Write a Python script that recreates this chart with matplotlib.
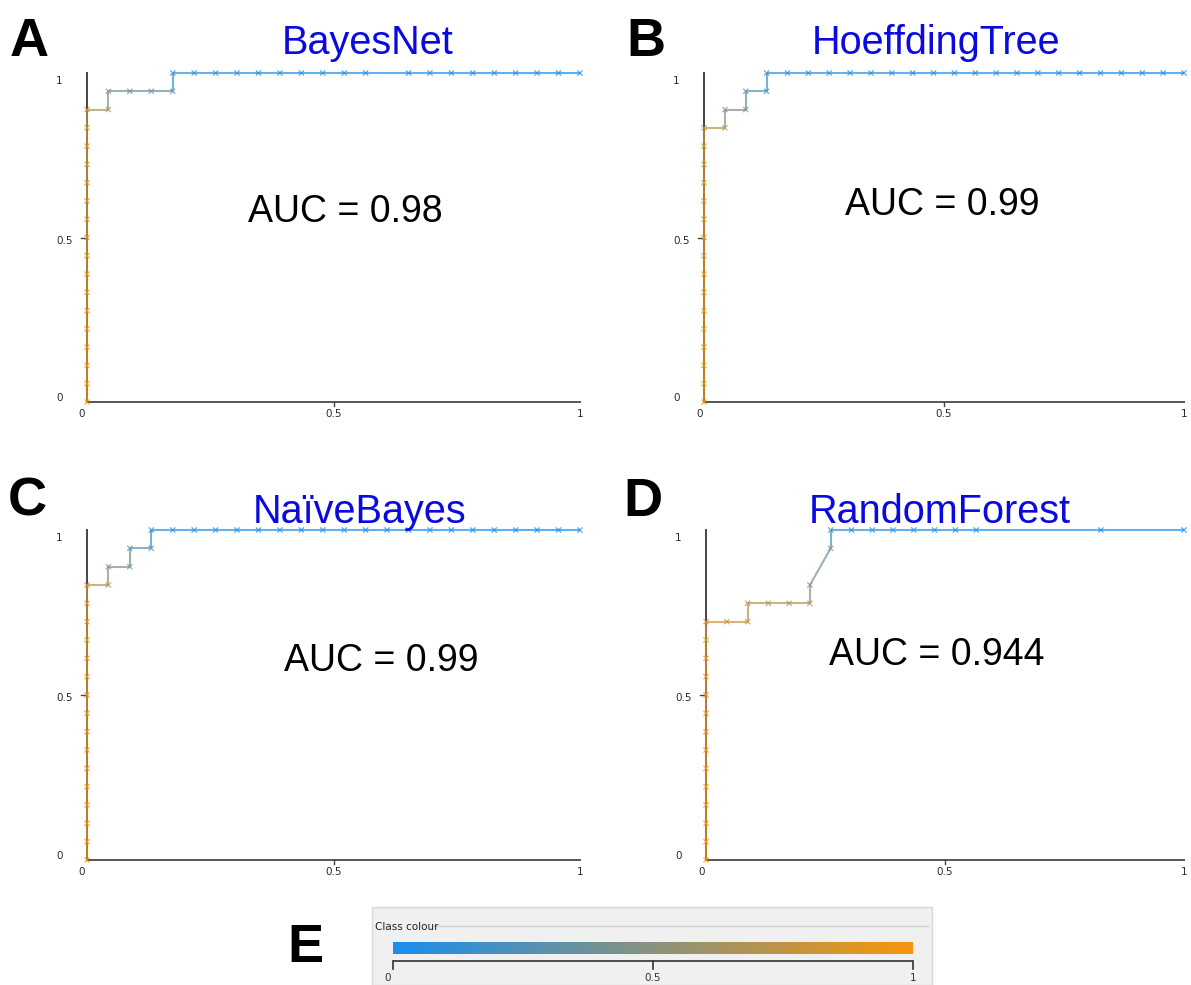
import numpy as np
import matplotlib
matplotlib.use('Agg')
import matplotlib.pyplot as plt
from matplotlib.colors import LinearSegmentedColormap
from matplotlib.collections import LineCollection

W, H = 1191, 985
n_neg = 23
n_pos = 18

# counts of false / true positives along each ROC curve, plus threshold (class colour)
fp_a = [0, 0, 0, 0, 0, 0, 0, 0, 0, 0, 0, 0, 0, 0, 0, 0, 0,
        1, 1, 2, 3, 4, 4, 5, 6, 7, 8, 9, 10, 11, 12, 13, 15, 16, 17, 18, 19, 20, 21, 22, 23]
tp_a = [0, 1, 2, 3, 4, 5, 6, 7, 8, 9, 10, 11, 12, 13, 14, 15, 16,
        16, 17, 17, 17, 17, 18, 18, 18, 18, 18, 18, 18, 18, 18, 18, 18, 18, 18, 18, 18, 18, 18, 18, 18]
thr_a = [1.0, 0.99, 0.98, 0.97, 0.96, 0.95, 0.94, 0.93, 0.92, 0.91, 0.9, 0.89, 0.88, 0.87, 0.86, 0.84, 0.76,
         0.66, 0.45, 0.4, 0.38, 0.35, 0.15, 0.1, 0.09, 0.08, 0.07, 0.06, 0.05, 0.05, 0.04, 0.04, 0.03,
         0.03, 0.02, 0.02, 0.01, 0.01, 0.0, 0.0, 0.0]

fp_b = [0, 0, 0, 0, 0, 0, 0, 0, 0, 0, 0, 0, 0, 0, 0, 0,
        1, 1, 2, 2, 3, 3, 4, 5, 6, 7, 8, 9, 10, 11, 12, 13, 14, 15, 16, 17, 18, 19, 20, 21, 22, 23]
tp_b = [0, 1, 2, 3, 4, 5, 6, 7, 8, 9, 10, 11, 12, 13, 14, 15,
        15, 16, 16, 17, 17, 18, 18, 18, 18, 18, 18, 18, 18, 18, 18, 18, 18, 18, 18, 18, 18, 18, 18, 18, 18, 18]
thr_b = [1.0, 0.99, 0.98, 0.97, 0.96, 0.95, 0.94, 0.93, 0.92, 0.91, 0.9, 0.89, 0.88, 0.87, 0.85, 0.8,
         0.68, 0.5, 0.45, 0.35, 0.3, 0.15, 0.1, 0.09, 0.08, 0.07, 0.06, 0.05, 0.05, 0.04, 0.04, 0.03,
         0.03, 0.02, 0.02, 0.02, 0.01, 0.01, 0.01, 0.0, 0.0, 0.0]

fp_c = [0, 0, 0, 0, 0, 0, 0, 0, 0, 0, 0, 0, 0, 0, 0, 0,
        1, 1, 2, 2, 3, 3, 4, 5, 6, 7, 8, 9, 10, 11, 12, 13, 14, 15, 16, 17, 18, 19, 20, 21, 22, 23]
tp_c = [0, 1, 2, 3, 4, 5, 6, 7, 8, 9, 10, 11, 12, 13, 14, 15,
        15, 16, 16, 17, 17, 18, 18, 18, 18, 18, 18, 18, 18, 18, 18, 18, 18, 18, 18, 18, 18, 18, 18, 18, 18, 18]
thr_c = [1.0, 0.99, 0.98, 0.97, 0.96, 0.95, 0.94, 0.93, 0.92, 0.91, 0.9, 0.89, 0.88, 0.87, 0.85, 0.8,
         0.68, 0.5, 0.45, 0.35, 0.3, 0.15, 0.1, 0.09, 0.08, 0.07, 0.06, 0.05, 0.05, 0.04, 0.04, 0.03,
         0.03, 0.02, 0.02, 0.02, 0.01, 0.01, 0.01, 0.0, 0.0, 0.0]

fp_d = [0, 0, 0, 0, 0, 0, 0, 0, 0, 0, 0, 0, 0, 0,
        1, 2, 2, 3, 4, 5, 5, 6, 6, 7, 8, 9, 10, 11, 12, 13, 19, 23]
tp_d = [0, 1, 2, 3, 4, 5, 6, 7, 8, 9, 10, 11, 12, 13,
        13, 13, 14, 14, 14, 14, 15, 17, 18, 18, 18, 18, 18, 18, 18, 18, 18, 18]
thr_d = [1.0, 0.99, 0.98, 0.97, 0.96, 0.95, 0.94, 0.93, 0.92, 0.91, 0.9, 0.89, 0.88, 0.85,
         0.8, 0.78, 0.72, 0.7, 0.68, 0.66, 0.5, 0.42, 0.2, 0.1, 0.09, 0.08, 0.07, 0.06, 0.05,
         0.04, 0.02, 0.0]

panels = [
    ('A', 'BayesNet', 'AUC = 0.98', fp_a, tp_a, thr_a),
    ('B', 'HoeffdingTree', 'AUC = 0.99', fp_b, tp_b, thr_b),
    ('C', 'NaïveBayes', 'AUC = 0.99', fp_c, tp_c, thr_c),
    ('D', 'RandomForest', 'AUC = 0.944', fp_d, tp_d, thr_d),
]

# pixel layout: (x of 0, x of 1, y of 0, y of 1), letter pos, title pos, auc pos
layout = {
    'A': ((87, 580, 402, 73), (10, 56), (368, 54), (345, 222)),
    'B': ((704, 1184, 402, 73), (626, 56), (936, 54), (942, 215)),
    'C': ((87, 580, 860, 530), (8, 516), (360, 523), (381, 671)),
    'D': ((706, 1184, 860, 530), (623, 516), (940, 523), (937, 665)),
}

cmap = LinearSegmentedColormap.from_list('class_colour', ['#1a8ff0', '#f7960c'])
font = 'Liberation Sans'

fig = plt.figure(figsize=(W / 100, H / 100), dpi=100)


def fx(px):
    return px / W


def fy(py):
    return 1 - py / H


for letter, title, auc, fp, tp, thr in panels:
    (x0, x1, y0, y1), lpos, tpos, apos = layout[letter]
    ax = fig.add_axes([fx(x0), fy(y0), (x1 - x0) / W, (y0 - y1) / H])
    ax.set_xlim(0, 1)
    ax.set_ylim(0, 1)
    ax.axis('off')

    fpr = np.array(fp) / n_neg
    tpr = np.array(tp) / n_pos
    thr = np.array(thr)

    # axes lines and ticks
    ax.plot([0, 1], [0, 0], color='#555555', lw=1.4, clip_on=False, zorder=1)
    ax.plot([0, 0], [0, 1], color='#444444', lw=1.4, clip_on=False, zorder=1)
    ax.plot([0.5, 0.5], [0, -0.012], color='#444444', lw=1.0, clip_on=False)
    ax.plot([0, -0.012], [0.5, 0.5], color='#444444', lw=1.0, clip_on=False)

    dx = 31 / (x1 - x0)
    tick_kw = dict(fontsize=7.5, color='#2a2a2a', clip_on=False, family='DejaVu Sans')
    ax.text(-dx, 0.975, '1', ha='left', va='center', **tick_kw)
    ax.text(-dx, 0.49, '0.5', ha='left', va='center', **tick_kw)
    ax.text(-dx, 0.012, '0', ha='left', va='center', **tick_kw)
    ax.text(-0.01, -0.035, '0', ha='center', va='center', **tick_kw)
    ax.text(0.5, -0.035, '0.5', ha='center', va='center', **tick_kw)
    ax.text(1.0, -0.035, '1', ha='center', va='center', **tick_kw)

    # ROC curve coloured by threshold
    pts = np.column_stack([fpr, tpr])
    segs = np.stack([pts[:-1], pts[1:]], axis=1)
    lc = LineCollection(segs, colors=cmap(thr[1:]), linewidths=1.5, alpha=0.7,
                        zorder=3, clip_on=False)
    ax.add_collection(lc)
    ax.scatter(fpr, tpr, c=thr, cmap=cmap, vmin=0, vmax=1, marker='x', s=14,
               linewidths=0.9, alpha=0.75, zorder=4, clip_on=False)

    fig.text(fx(lpos[0]), fy(lpos[1]), letter, fontsize=39, fontweight='bold',
             family=font, ha='left', va='baseline')
    fig.text(fx(tpos[0]), fy(tpos[1]), title, fontsize=28.5, color='#0a0ae0',
             family=font, ha='center', va='baseline')
    fig.text(fx(apos[0]), fy(apos[1]), auc, fontsize=27, color='black',
             family=font, ha='center', va='baseline')

# panel E: class colour bar
bx0, bx1 = 393, 913
ey_top, ey_bot = 907, 985
ax_e = fig.add_axes([fx(bx0), fy(ey_bot), (bx1 - bx0) / W, (ey_bot - ey_top) / H])
ax_e.set_xlim(0, 1)
ax_e.set_ylim(0, 1)
ax_e.axis('off')


def ey(py):
    return (ey_bot - py) / (ey_bot - ey_top)


def ex(px):
    return (px - bx0) / (bx1 - bx0)


ax_e.add_patch(plt.Rectangle((ex(372), 0), ex(932) - ex(372), 1, facecolor='#f0f0f0',
                             edgecolor='#d8d8d8', lw=1, clip_on=False, zorder=0))
ax_e.plot([ex(432), ex(928)], [ey(926), ey(926)], color='#d0d0d0', lw=1, clip_on=False)
ax_e.text(ex(375), ey(927), 'Class colour', fontsize=7.5, color='#222222',
          ha='left', va='center', clip_on=False, family='DejaVu Sans')
grad = np.linspace(0, 1, 256)[None, :]
ax_e.imshow(grad, cmap=cmap, aspect='auto', extent=[0, 1, ey(954), ey(943)], zorder=2)
ax_e.plot([0, 1], [ey(961), ey(961)], color='#333333', lw=1.2)
for v in [0, 0.5, 1]:
    ax_e.plot([v, v], [ey(961), ey(969)], color='#333333', lw=1.2, clip_on=False)
for v, s in [(-0.01, '0'), (0.5, '0.5'), (1.0, '1')]:
    ax_e.text(v, ey(978), s, fontsize=7.5, color='#333333', ha='center', va='center',
              family='DejaVu Sans')
ax_e.set_xlim(0, 1)
ax_e.set_ylim(0, 1)

fig.text(fx(287), fy(962), 'E', fontsize=39, fontweight='bold', family=font,
         ha='left', va='baseline')

fig.savefig('out.png', dpi=100)
